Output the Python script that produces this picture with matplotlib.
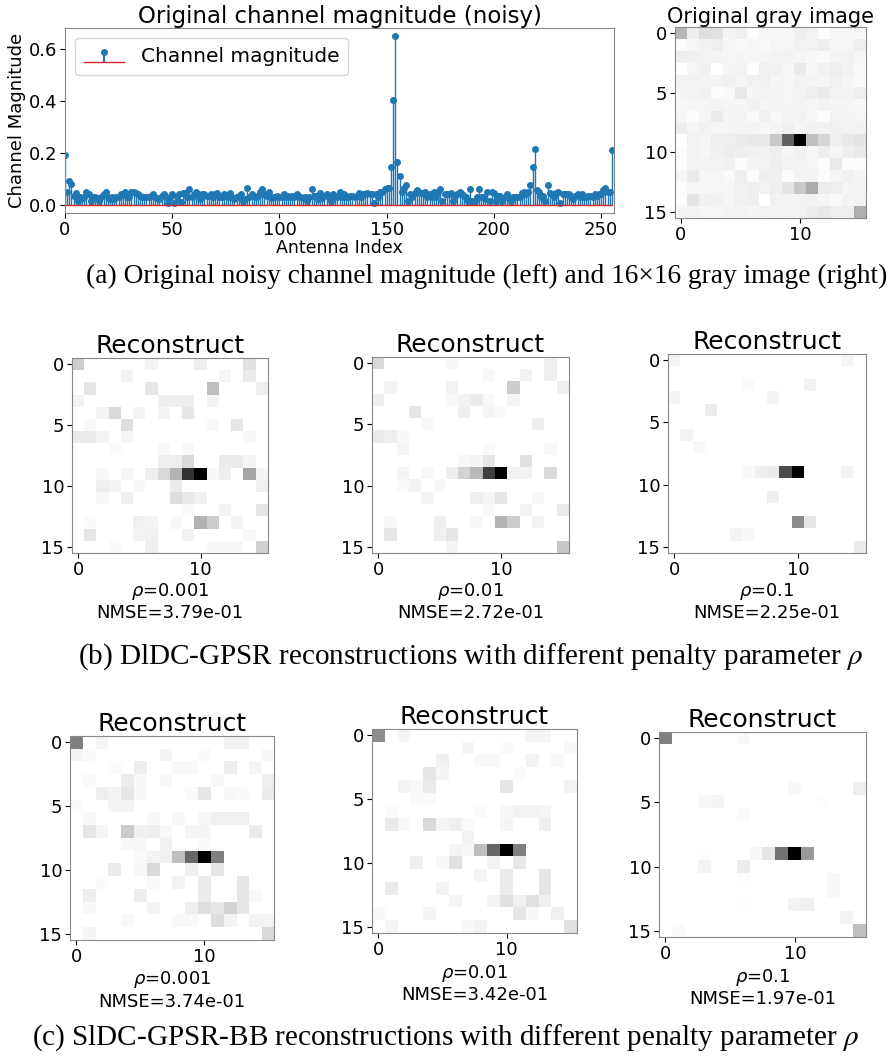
import numpy as np
import matplotlib
matplotlib.use("Agg")
import matplotlib.pyplot as plt

# ---------------- data ----------------
orig_rows = [
    [0.19, 0.05, 0.09, 0.08, 0.035, 0.045, 0.015, 0.03, 0.025, 0.03, 0.05, 0.04, 0.015, 0.03, 0.03, 0.025],
    [0.015, 0.03, 0.04, 0.05, 0.03, 0.02, 0.03, 0.02, 0.03, 0.03, 0.04, 0.04, 0.05, 0.03, 0.03, 0.05],
    [0.05, 0.045, 0.04, 0.035, 0.03, 0.03, 0.03, 0.03, 0.035, 0.04, 0.03, 0.025, 0.02, 0.035, 0.04, 0.03],
    [0.005, 0.03, 0.04, 0.005, 0.03, 0.04, 0.01, 0.045, 0.045, 0.03, 0.06, 0.03, 0.04, 0.05, 0.04, 0.02],
    [0.04, 0.04, 0.035, 0.035, 0.04, 0.03, 0.04, 0.045, 0.03, 0.03, 0.04, 0.035, 0.03, 0.045, 0.03, 0.02],
    [0.03, 0.035, 0.04, 0.015, 0.02, 0.065, 0.03, 0.04, 0.035, 0.03, 0.035, 0.05, 0.06, 0.04, 0.035, 0.05],
    [0.025, 0.03, 0.03, 0.035, 0.03, 0.03, 0.04, 0.03, 0.035, 0.03, 0.035, 0.03, 0.04, 0.03, 0.03, 0.025],
    [0.03, 0.015, 0.03, 0.06, 0.035, 0.035, 0.02, 0.045, 0.025, 0.035, 0.04, 0.03, 0.015, 0.04, 0.035, 0.03],
    [0.05, 0.03, 0.04, 0.03, 0.03, 0.035, 0.035, 0.03, 0.035, 0.045, 0.03, 0.04, 0.04, 0.045, 0.04, 0.04],
    [0.005, 0.04, 0.03, 0.05, 0.05, 0.06, 0.065, 0.065, 0.145, 0.405, 0.65, 0.165, 0.11, 0.05, 0.065, 0.075],
    [0.015, 0.04, 0.03, 0.045, 0.055, 0.05, 0.045, 0.045, 0.05, 0.03, 0.04, 0.03, 0.05, 0.03, 0.05, 0.06],
    [0.015, 0.04, 0.04, 0.04, 0.045, 0.015, 0.035, 0.04, 0.05, 0.04, 0.035, 0.03, 0.015, 0.06, 0.015, 0.015],
    [0.03, 0.06, 0.03, 0.03, 0.02, 0.05, 0.015, 0.05, 0.045, 0.015, 0.035, 0.035, 0.015, 0.03, 0.04, 0.03],
    [0.015, 0.03, 0.03, 0.03, 0.03, 0.045, 0.05, 0.04, 0.05, 0.075, 0.145, 0.215, 0.055, 0.05, 0.03, 0.035],
    [0.015, 0.075, 0.045, 0.04, 0.03, 0.045, 0.05, 0.005, 0.04, 0.04, 0.04, 0.04, 0.03, 0.02, 0.035, 0.04],
    [0.03, 0.04, 0.03, 0.03, 0.035, 0.035, 0.03, 0.04, 0.035, 0.04, 0.04, 0.055, 0.065, 0.05, 0.05, 0.21],
]

# reconstructions: (row, col, normalised magnitude) of non-zero cells
rec_dldc_0001 = [
    (0, 0, .2), (0, 6, .05), (0, 10, .07), (0, 14, .12),
    (1, 4, .05), (1, 12, .04), (1, 14, .08),
    (2, 1, .1), (2, 6, .1), (2, 11, .25), (2, 15, .07),
    (3, 0, .05), (3, 7, .07), (3, 8, .07), (3, 9, .07), (3, 11, .05),
    (4, 2, .05), (4, 3, .15), (4, 5, .05), (4, 7, .04), (4, 9, .1),
    (5, 1, .03), (5, 4, .13), (5, 11, .03), (5, 13, .1),
    (6, 0, .08), (6, 1, .08), (6, 2, .05), (6, 4, .04), (6, 14, .03),
    (7, 3, .02), (7, 7, .03), (7, 9, .03),
    (8, 7, .07), (8, 8, .07), (8, 9, .15), (8, 12, .08), (8, 13, .08), (8, 14, .04),
    (9, 2, .03), (9, 4, .04), (9, 6, .07), (9, 7, .15), (9, 8, .3), (9, 9, .8), (9, 10, 1.0),
    (9, 11, .03), (9, 12, .07), (9, 14, .35), (9, 15, .04),
    (10, 2, .07), (10, 3, .05), (10, 5, .03), (10, 8, .08), (10, 15, .06),
    (11, 2, .03), (11, 4, .06), (11, 8, .13), (11, 9, .09), (11, 10, .06),
    (12, 9, .02), (12, 12, .05), (12, 15, .1),
    (13, 1, .02), (13, 5, .06), (13, 6, .05), (13, 8, .03), (13, 10, .3), (13, 11, .2), (13, 13, .05),
    (14, 1, .1), (14, 5, .05), (14, 6, .06), (14, 9, .05), (14, 14, .03),
    (15, 3, .02), (15, 6, .07), (15, 11, .03), (15, 12, .03), (15, 13, .03), (15, 15, .18),
]
rec_dldc_001 = [
    (0, 0, .15), (0, 6, .03), (0, 14, .07),
    (1, 9, .03), (1, 12, .05), (1, 14, .07),
    (2, 1, .05), (2, 6, .05), (2, 11, .2), (2, 15, .07),
    (3, 0, .07), (3, 6, .03), (3, 7, .05), (3, 8, .08), (3, 9, .03), (3, 11, .04),
    (4, 3, .1), (4, 7, .06), (4, 9, .04), (4, 10, .02),
    (5, 4, .03), (5, 13, .07),
    (6, 0, .08), (6, 1, .07), (6, 2, .03),
    (7, 2, .04), (7, 9, .02), (7, 14, .03),
    (8, 7, .03), (8, 8, .04), (8, 9, .1), (8, 12, .12),
    (9, 2, .04), (9, 4, .03), (9, 6, .07), (9, 7, .17), (9, 8, .28), (9, 9, .75), (9, 10, 1.0),
    (9, 11, .05), (9, 12, .05), (9, 14, .15),
    (10, 2, .02), (10, 3, .05), (10, 5, .03),
    (11, 4, .04), (11, 8, .07), (11, 9, .04), (11, 10, .1), (11, 13, .03),
    (12, 9, .03), (12, 12, .05), (12, 15, .08),
    (13, 1, .03), (13, 5, .06), (13, 8, .03), (13, 10, .3), (13, 11, .2), (13, 13, .05),
    (14, 1, .1), (14, 5, .06), (14, 6, .1),
    (15, 6, .04), (15, 15, .22),
]
rec_dldc_01 = [
    (0, 0, .05), (0, 14, .04),
    (2, 6, .02), (2, 11, .05),
    (3, 0, .04), (3, 8, .05),
    (4, 3, .08),
    (6, 1, .05),
    (7, 2, .03),
    (9, 6, .03), (9, 7, .06), (9, 8, .08), (9, 9, .7), (9, 10, 1.0), (9, 14, .05),
    (11, 8, .06),
    (13, 10, .45), (13, 11, .1),
    (14, 5, .05), (14, 6, .03),
    (15, 15, .08),
]
rec_sldc_0001 = [
    (0, 0, .5), (0, 2, .04), (0, 12, .05), (0, 13, .05),
    (1, 0, .04), (1, 1, .02), (1, 7, .04), (1, 10, .02), (1, 15, .03),
    (2, 3, .02), (2, 5, .07), (2, 8, .03), (2, 9, .03), (2, 12, .07), (2, 14, .04),
    (3, 1, .02), (3, 4, .08), (3, 5, .03), (3, 7, .03), (3, 11, .03), (3, 15, .07),
    (4, 2, .07), (4, 3, .05), (4, 4, .1), (4, 5, .03), (4, 9, .02), (4, 10, .1), (4, 12, .03),
    (4, 13, .02), (4, 15, .08),
    (5, 0, .02), (5, 3, .04), (5, 4, .04),
    (6, 1, .03), (6, 6, .03), (6, 8, .03), (6, 10, .03), (6, 11, .06), (6, 12, .06), (6, 13, .06),
    (7, 1, .1), (7, 2, .04), (7, 4, .2), (7, 5, .06), (7, 6, .07), (7, 7, .03), (7, 9, .04),
    (7, 10, .04), (7, 14, .08),
    (8, 4, .03), (8, 5, .03), (8, 7, .06), (8, 10, .02),
    (9, 5, .02), (9, 6, .05), (9, 7, .06), (9, 8, .25), (9, 9, .6), (9, 10, 1.0), (9, 11, .5),
    (10, 3, .08), (10, 5, .03), (10, 6, .15), (10, 9, .06), (10, 11, .1),
    (11, 2, .02), (11, 6, .02), (11, 8, .05), (11, 10, .08), (11, 13, .1),
    (12, 1, .07), (12, 5, .07), (12, 10, .08), (12, 13, .1), (12, 14, .03),
    (13, 1, .03), (13, 6, .05), (13, 9, .07), (13, 10, .13), (13, 11, .1), (13, 12, .17), (13, 13, .1),
    (14, 4, .03), (14, 8, .03), (14, 9, .03), (14, 11, .13), (14, 12, .05), (14, 14, .05), (14, 15, .04),
    (15, 1, .04), (15, 15, .15),
]
rec_sldc_001 = [
    (0, 0, .45), (0, 2, .04), (0, 12, .05), (0, 13, .04),
    (1, 7, .04), (1, 10, .02), (1, 15, .03),
    (2, 5, .06), (2, 8, .03), (2, 9, .03), (2, 12, .05), (2, 14, .03),
    (3, 4, .1), (3, 5, .04), (3, 11, .02),
    (4, 2, .05), (4, 3, .03), (4, 4, .08), (4, 10, .1), (4, 15, .05),
    (5, 3, .02), (5, 4, .02),
    (6, 1, .02), (6, 8, .02), (6, 10, .03), (6, 11, .05), (6, 12, .05), (6, 13, .04),
    (7, 1, .08), (7, 2, .03), (7, 4, .15), (7, 5, .04), (7, 6, .06), (7, 7, .02), (7, 10, .04), (7, 13, .06),
    (8, 7, .05),
    (9, 6, .04), (9, 7, .03), (9, 8, .25), (9, 9, .6), (9, 10, 1.0), (9, 11, .5),
    (10, 3, .06), (10, 5, .03), (10, 6, .12), (10, 9, .05), (10, 11, .09),
    (11, 8, .04), (11, 10, .08), (11, 13, .1),
    (12, 1, .08), (12, 5, .05), (12, 10, .08), (12, 13, .1),
    (13, 6, .04), (13, 9, .05), (13, 10, .12), (13, 11, .06), (13, 12, .12), (13, 13, .06),
    (14, 0, .03), (14, 4, .04), (14, 11, .1), (14, 12, .03), (14, 14, .06),
    (15, 1, .04), (15, 7, .03), (15, 8, .05), (15, 15, .12),
]
rec_sldc_01 = [
    (0, 0, .5), (0, 6, .03),
    (4, 10, .03), (4, 15, .07),
    (5, 3, .03), (5, 4, .04), (5, 12, .01),
    (6, 6, .02),
    (9, 3, .01), (9, 7, .03), (9, 8, .1), (9, 9, .55), (9, 10, 1.0), (9, 11, .4),
    (10, 3, .05), (10, 6, .08),
    (11, 6, .01), (11, 13, .03),
    (12, 13, .03),
    (13, 6, .01), (13, 10, .05), (13, 11, .06),
    (14, 14, .05),
    (15, 1, .02), (15, 15, .25),
]

rhos = ["0.001", "0.01", "0.1"]
nmse_dldc = ["3.79e-01", "2.72e-01", "2.25e-01"]
nmse_sldc = ["3.74e-01", "3.42e-01", "1.97e-01"]

captions = [
    "(a) Original noisy channel magnitude (left) and 16\u00d716 gray image (right)",
    r"(b) DlDC-GPSR reconstructions with different penalty parameter $\rho$",
    r"(c) SlDC-GPSR-BB reconstructions with different penalty parameter $\rho$",
]

# ---------------- figure ----------------
W, H = 891, 1057
fig = plt.figure(figsize=(W / 100, H / 100), dpi=100)
fig.patch.set_facecolor("white")


def ax_px(x0, y0, x1, y1):
    return fig.add_axes([x0 / W, 1 - y1 / H, (x1 - x0) / W, (y1 - y0) / H])


orig = np.array(orig_rows)
mag = orig.flatten()
idx = np.arange(mag.size)

# stem plot
ax = ax_px(65, 28, 614, 213)
ml, sl, bl = ax.stem(idx, mag, label="Channel magnitude")
plt.setp(ml, markersize=4)
plt.setp(sl, linewidth=1.0)
plt.setp(bl, color="C3", linewidth=1.0)
ax.set_xlim(0, 256)
ax.set_xticks([0, 50, 100, 150, 200, 250])
ax.set_yticks([0.0, 0.2, 0.4, 0.6])
ax.tick_params(labelsize=13, pad=2)
ax.set_title("Original channel magnitude (noisy)", fontsize=16.5, pad=3)
ax.set_xlabel("Antenna Index", fontsize=12.5, labelpad=0)
ax.set_ylabel("Channel Magnitude", fontsize=13, labelpad=2)
ax.legend(loc="upper left", fontsize=14.5, handlelength=2.0, borderpad=0.45)
for s in ax.spines.values():
    s.set_color("#888888")


def show_img(ax, data, title, fs_title, fs_tick):
    ax.imshow(data, cmap="gray_r", interpolation="nearest", aspect="auto")
    ax.set_xticks([0, 10])
    ax.set_yticks([0, 5, 10, 15])
    ax.tick_params(labelsize=fs_tick, pad=2)
    ax.set_title(title, fontsize=fs_title, pad=3)
    for s in ax.spines.values():
        s.set_color("#888888")


def sparse_to_img(entries):
    img = np.zeros((16, 16))
    for r, c, v in entries:
        img[r, c] = v
    return img


axg = ax_px(675, 27, 866, 218)
show_img(axg, orig, "Original gray image", 15, 13)

fig.text(487 / W, 1 - 276 / H, captions[0], ha="center", va="center",
         fontsize=19.7, family="Liberation Serif", math_fontfamily="stix")

boxes_b = [(72, 358, 268, 553), (372, 357, 569, 553), (668, 354, 866, 553)]
recs_b = [rec_dldc_0001, rec_dldc_001, rec_dldc_01]
for (x0, y0, x1, y1), rec, rho, nm in zip(boxes_b, recs_b, rhos, nmse_dldc):
    a = ax_px(x0, y0, x1, y1)
    show_img(a, sparse_to_img(rec), "Reconstruct", 18, 13)
    cx = (x0 + x1) / 2
    fig.text(cx / W, 1 - (y1 + 38) / H, r"$\rho$=" + rho, ha="center", va="center", fontsize=13)
    fig.text(cx / W, 1 - (y1 + 60) / H, "NMSE=" + nm, ha="center", va="center", fontsize=13)

fig.text(470 / W, 1 - 657 / H, captions[1], ha="center", va="center",
         fontsize=21, family="Liberation Serif", math_fontfamily="stix")

boxes_c = [(70, 736, 274, 940), (372, 729, 577, 933), (659, 732, 866, 937)]
recs_c = [rec_sldc_0001, rec_sldc_001, rec_sldc_01]
for (x0, y0, x1, y1), rec, rho, nm in zip(boxes_c, recs_c, rhos, nmse_sldc):
    a = ax_px(x0, y0, x1, y1)
    show_img(a, sparse_to_img(rec), "Reconstruct", 18, 13)
    cx = (x0 + x1) / 2
    fig.text(cx / W, 1 - (y1 + 40) / H, r"$\rho$=" + rho, ha="center", va="center", fontsize=13)
    fig.text(cx / W, 1 - (y1 + 62) / H, "NMSE=" + nm, ha="center", va="center", fontsize=13)

fig.text(445 / W, 1 - 1038 / H, captions[2], ha="center", va="center",
         fontsize=21, family="Liberation Serif", math_fontfamily="stix")

fig.savefig("out.png", dpi=100, facecolor="white")
